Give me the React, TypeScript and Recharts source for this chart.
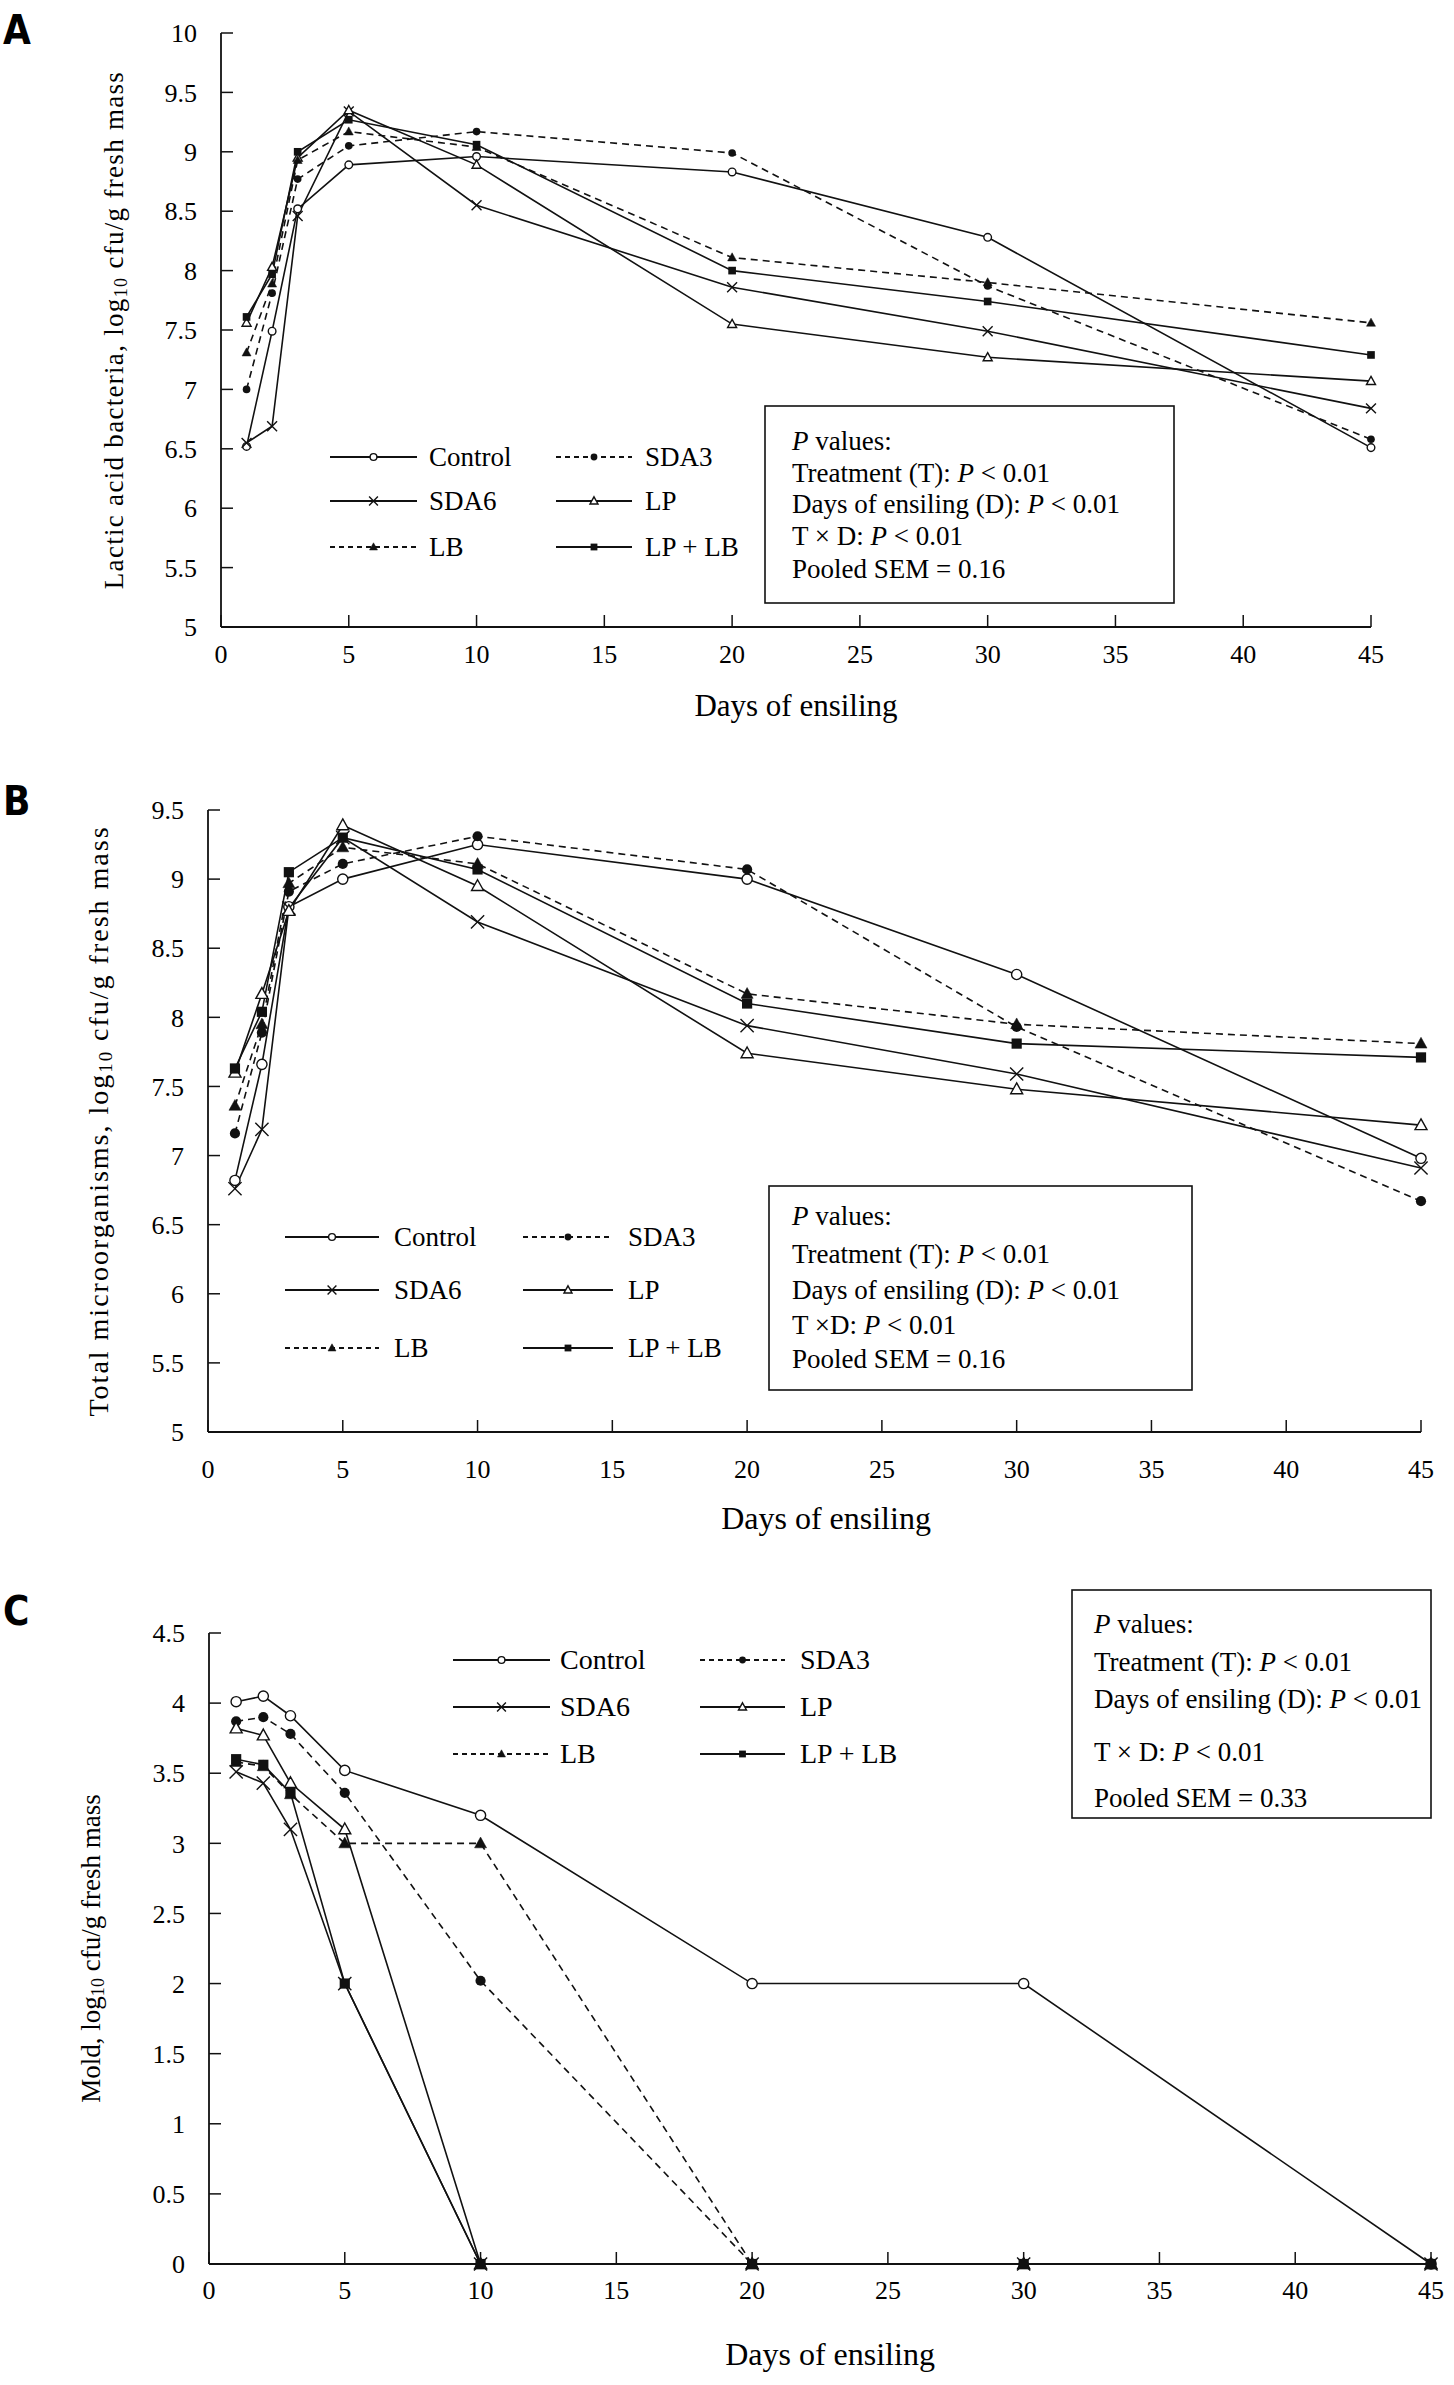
import React from 'react';
import { LineChart, Line, XAxis, YAxis } from 'recharts';

// sampling days shared by all three panels
const days = [1, 2, 3, 5, 10, 20, 30, 45];
const xTicks = [0, 5, 10, 15, 20, 25, 30, 35, 40, 45];

// A: lactic acid bacteria
const labTicks = [5, 5.5, 6, 6.5, 7, 7.5, 8, 8.5, 9, 9.5, 10];
const labControl = [6.52, 7.49, 8.52, 8.89, 8.96, 8.83, 8.28, 6.51];
const labSDA3 = [7.0, 7.81, 8.77, 9.05, 9.17, 8.99, 7.87, 6.58];
const labSDA6 = [6.55, 6.69, 8.46, 9.34, 8.55, 7.86, 7.49, 6.84];
const labLP = [7.56, 8.03, 8.95, 9.35, 8.89, 7.55, 7.27, 7.07];
const labLB = [7.31, 7.89, 8.93, 9.17, 9.04, 8.11, 7.9, 7.56];
const labLPLB = [7.61, 7.97, 9.0, 9.27, 9.06, 8.0, 7.74, 7.29];

// B: total microorganisms
const tmTicks = [5, 5.5, 6, 6.5, 7, 7.5, 8, 8.5, 9, 9.5];
const tmControl = [6.82, 7.66, 8.8, 9.0, 9.25, 9.0, 8.31, 6.98];
const tmSDA3 = [7.16, 7.89, 8.91, 9.11, 9.31, 9.07, 7.93, 6.67];
const tmSDA6 = [6.76, 7.19, 8.79, 9.3, 8.69, 7.94, 7.59, 6.91];
const tmLP = [7.6, 8.17, 8.77, 9.39, 8.95, 7.74, 7.48, 7.22];
const tmLB = [7.36, 7.95, 8.97, 9.23, 9.11, 8.17, 7.95, 7.81];
const tmLPLB = [7.63, 8.04, 9.05, 9.3, 9.07, 8.1, 7.81, 7.71];

// C: mold
const moldTicks = [0, 0.5, 1, 1.5, 2, 2.5, 3, 3.5, 4, 4.5];
const moldControl = [4.01, 4.05, 3.91, 3.52, 3.2, 2.0, 2.0, 0];
const moldSDA3 = [3.87, 3.9, 3.78, 3.36, 2.02, 0, 0, 0];
const moldSDA6 = [3.51, 3.43, 3.1, 2.0, 0, 0, 0, 0];
const moldLP = [3.82, 3.77, 3.43, 3.1, 0, 0, 0, 0];
const moldLB = [3.58, 3.55, 3.35, 3.0, 3.0, 0, 0, 0];
const moldLPLB = [3.6, 3.56, 3.36, 2.0, 0, 0, 0, 0];

const INK = '#111';
const SERIF = '"Liberation Serif", "Times New Roman", serif';
const PAGE_W = 1454;

type Shape = 'circleOpen' | 'circleFilled' | 'cross' | 'triangleOpen' | 'triangleFilled' | 'square';

const series: { key: string; name: string; shape: Shape; dashed: boolean }[] = [
  { key: 'control', name: 'Control', shape: 'circleOpen', dashed: false },
  { key: 'sda3', name: 'SDA3', shape: 'circleFilled', dashed: true },
  { key: 'sda6', name: 'SDA6', shape: 'cross', dashed: false },
  { key: 'lp', name: 'LP', shape: 'triangleOpen', dashed: false },
  { key: 'lb', name: 'LB', shape: 'triangleFilled', dashed: true },
  { key: 'lplb', name: 'LP + LB', shape: 'square', dashed: false },
];

const buildRows = (values: number[][]) =>
  days.map((d, i) => {
    const row: { [k: string]: number } = { day: d };
    series.forEach((s, j) => {
      row[s.key] = values[j][i];
    });
    return row;
  });

function Marker({ cx, cy, shape, size }: { cx?: number; cy?: number; shape: Shape; size: number }) {
  if (cx == null || cy == null || isNaN(cx) || isNaN(cy)) return null;
  const h = size / 2;
  const sw = 1.4;
  switch (shape) {
    case 'circleOpen':
      return <circle cx={cx} cy={cy} r={h * 0.85} fill="#fff" stroke={INK} strokeWidth={sw} />;
    case 'circleFilled':
      return <circle cx={cx} cy={cy} r={h * 0.85} fill={INK} />;
    case 'cross': {
      const c = h * 1.1;
      return (
        <path
          d={`M${cx - c},${cy - c}L${cx + c},${cy + c}M${cx - c},${cy + c}L${cx + c},${cy - c}`}
          stroke={INK}
          strokeWidth={sw}
          fill="none"
        />
      );
    }
    case 'triangleOpen':
    case 'triangleFilled':
      return (
        <polygon
          points={`${cx},${cy - h * 1.05} ${cx + h},${cy + h * 0.75} ${cx - h},${cy + h * 0.75}`}
          fill={shape === 'triangleOpen' ? '#fff' : INK}
          stroke={INK}
          strokeWidth={shape === 'triangleOpen' ? sw : 0.5}
        />
      );
    default:
      return <rect x={cx - h * 0.85} y={cy - h * 0.85} width={h * 1.7} height={h * 1.7} fill={INK} />;
  }
}

type Seg = { t: string; i?: boolean };

interface PanelProps {
  top: number;
  height: number;
  letter: string;
  letterY: number;
  rows: { [k: string]: number }[];
  yDomain: [number, number];
  yTicks: number[];
  plot: { left: number; right: number; top: number; bottom: number };
  yTitle: string;
  yTitleX: number;
  yTitleSize: number;
  yTitleSpacing: number;
  xTickGap: number;
  xTitleX: number;
  xTitleY: number;
  xTitleSize: number;
  markerSize: number;
  legendSize: number;
  legend: { rowsY: number[]; cols: { x1: number; x2: number; tx: number }[] };
  box: { x: number; y: number; w: number; h: number; tx: number; size: number; lineY: number[]; lines: Seg[][] };
}

const statLines = (txd: string, sem: string): Seg[][] => [
  [{ t: 'P', i: true }, { t: ' values:' }],
  [{ t: 'Treatment (T): ' }, { t: 'P', i: true }, { t: ' < 0.01' }],
  [{ t: 'Days of ensiling (D): ' }, { t: 'P', i: true }, { t: ' < 0.01' }],
  [{ t: txd }, { t: 'P', i: true }, { t: ' < 0.01' }],
  [{ t: 'Pooled SEM = ' + sem }],
];

function Panel(p: PanelProps) {
  const yAxisW = 100;
  const xAxisH = 110;
  const margin = {
    top: p.plot.top - p.top,
    left: p.plot.left - yAxisW,
    right: PAGE_W - p.plot.right,
    bottom: p.top + p.height - p.plot.bottom - xAxisH,
  };
  const localTop = p.plot.top - p.top;
  const localBottom = p.plot.bottom - p.top;
  const tick = { fontSize: 26, fill: '#000', fontFamily: SERIF };
  const yMid = (localTop + localBottom) / 2;

  return (
    <div style={{ position: 'absolute', left: 0, top: p.top, width: PAGE_W, height: p.height }}>
      <LineChart width={PAGE_W} height={p.height} data={p.rows} margin={margin}>
        <XAxis
          dataKey="day"
          type="number"
          domain={[0, 45]}
          ticks={xTicks}
          interval={0}
          height={xAxisH}
          tickSize={-12}
          tickMargin={p.xTickGap + 2.5}
          tick={tick}
          axisLine={{ stroke: INK, strokeWidth: 1.8 }}
          tickLine={{ stroke: INK, strokeWidth: 1.5 }}
        />
        <YAxis
          type="number"
          domain={p.yDomain}
          ticks={p.yTicks}
          interval={0}
          width={yAxisW}
          tickSize={-12}
          tickMargin={36}
          tick={tick}
          axisLine={{ stroke: INK, strokeWidth: 1.8 }}
          tickLine={{ stroke: INK, strokeWidth: 1.5 }}
        />
        {series.map((s) => (
          <Line
            key={s.key}
            type="linear"
            dataKey={s.key}
            name={s.name}
            stroke={INK}
            strokeWidth={1.6}
            strokeDasharray={s.dashed ? '7 5' : undefined}
            isAnimationActive={false}
            activeDot={false}
            dot={(d: any) => (
              <Marker key={`${s.key}-${d.index}`} cx={d.cx} cy={d.cy} shape={s.shape} size={p.markerSize} />
            )}
          />
        ))}
      </LineChart>

      <svg
        width={PAGE_W}
        height={p.height}
        style={{ position: 'absolute', left: 0, top: 0, pointerEvents: 'none' }}
        fontFamily={SERIF}
      >
        <text
          x={3}
          y={p.letterY}
          fontFamily='"Liberation Sans Narrow", "DejaVu Sans Condensed", "Liberation Sans", sans-serif'
          fontWeight="bold"
          fontSize={40}
          fill="#000"
        >
          {p.letter}
        </text>

        <text
          x={p.yTitleX}
          y={yMid}
          transform={`rotate(-90 ${p.yTitleX} ${yMid})`}
          textAnchor="middle"
          dominantBaseline="central"
          fontSize={p.yTitleSize}
          letterSpacing={p.yTitleSpacing}
          fill="#000"
        >
          {p.yTitle}, log
          <tspan dy={7} fontSize={p.yTitleSize * 0.67}>10</tspan>
          <tspan dy={-7}> cfu/g fresh mass</tspan>
        </text>

        <text x={p.xTitleX} y={p.xTitleY} textAnchor="middle" fontSize={p.xTitleSize} fill="#000">
          Days of ensiling
        </text>

        {series.map((s, idx) => {
          const row = Math.floor(idx / 2);
          const col = p.legend.cols[idx % 2];
          const y = p.legend.rowsY[row];
          const mid = (col.x1 + col.x2) / 2;
          return (
            <g key={s.key}>
              <line
                x1={col.x1}
                x2={col.x2}
                y1={y}
                y2={y}
                stroke={INK}
                strokeWidth={1.8}
                strokeDasharray={s.dashed ? '5 4' : undefined}
              />
              <Marker cx={mid} cy={y} shape={s.shape} size={8} />
              <text x={col.tx} y={y + 9} fontSize={p.legendSize} fill="#000">
                {s.name}
              </text>
            </g>
          );
        })}

        <rect
          x={p.box.x}
          y={p.box.y}
          width={p.box.w}
          height={p.box.h}
          fill="#fff"
          stroke={INK}
          strokeWidth={1.6}
        />
        {p.box.lines.map((segs, i) => (
          <text key={i} x={p.box.tx} y={p.box.lineY[i]} fontSize={p.box.size} fill="#000">
            {segs.map((sg, j) => (
              <tspan key={j} fontStyle={sg.i ? 'italic' : 'normal'}>
                {sg.t}
              </tspan>
            ))}
          </text>
        ))}
      </svg>
    </div>
  );
}

export default function App() {
  const rowsA = buildRows([labControl, labSDA3, labSDA6, labLP, labLB, labLPLB]);
  const rowsB = buildRows([tmControl, tmSDA3, tmSDA6, tmLP, tmLB, tmLPLB]);
  const rowsC = buildRows([moldControl, moldSDA3, moldSDA6, moldLP, moldLB, moldLPLB]);

  return (
    <div
      style={{
        position: 'absolute',
        left: 0,
        top: 0,
        width: PAGE_W,
        height: 2385,
        background: '#fff',
        fontFamily: SERIF,
      }}
    >
      <Panel
        top={0}
        height={760}
        letter="A"
        letterY={44}
        rows={rowsA}
        yDomain={[5, 10]}
        yTicks={labTicks}
        plot={{ left: 221, right: 1371, top: 33, bottom: 627 }}
        yTitle="Lactic acid bacteria"
        yTitleX={114}
        yTitleSize={27}
        yTitleSpacing={1.3}
        xTickGap={27}
        xTitleX={796}
        xTitleY={716}
        xTitleSize={31}
        markerSize={9}
        legendSize={27}
        legend={{
          rowsY: [457, 501, 547],
          cols: [
            { x1: 330, x2: 417, tx: 429 },
            { x1: 556, x2: 632, tx: 645 },
          ],
        }}
        box={{
          x: 765,
          y: 406,
          w: 409,
          h: 197,
          tx: 792,
          size: 27,
          lineY: [450, 482, 513, 545, 578],
          lines: statLines('T × D: ', '0.16'),
        }}
      />
      <Panel
        top={760}
        height={800}
        letter="B"
        letterY={55}
        rows={rowsB}
        yDomain={[5, 9.5]}
        yTicks={tmTicks}
        plot={{ left: 208, right: 1421, top: 810, bottom: 1432 }}
        yTitle="Total microorganisms"
        yTitleX={98}
        yTitleSize={28}
        yTitleSpacing={2}
        xTickGap={37}
        xTitleX={826}
        xTitleY={769}
        xTitleSize={32}
        markerSize={12}
        legendSize={27}
        legend={{
          rowsY: [477, 530, 588],
          cols: [
            { x1: 285, x2: 379, tx: 394 },
            { x1: 523, x2: 613, tx: 628 },
          ],
        }}
        box={{
          x: 769,
          y: 426,
          w: 423,
          h: 204,
          tx: 792,
          size: 27,
          lineY: [465, 503, 539, 574, 608],
          lines: statLines('T ×D: ', '0.16'),
        }}
      />
      <Panel
        top={1560}
        height={825}
        letter="C"
        letterY={65}
        rows={rowsC}
        yDomain={[0, 4.5]}
        yTicks={moldTicks}
        plot={{ left: 209, right: 1431, top: 1633, bottom: 2264 }}
        yTitle="Mold"
        yTitleX={91}
        yTitleSize={27}
        yTitleSpacing={0}
        xTickGap={26}
        xTitleX={830}
        xTitleY={805}
        xTitleSize={32}
        markerSize={12}
        legendSize={28}
        legend={{
          rowsY: [100, 147, 194],
          cols: [
            { x1: 453, x2: 550, tx: 560 },
            { x1: 700, x2: 785, tx: 800 },
          ],
        }}
        box={{
          x: 1072,
          y: 30,
          w: 359,
          h: 228,
          tx: 1094,
          size: 27,
          lineY: [73, 111, 148, 201, 247],
          lines: statLines('T × D: ', '0.33'),
        }}
      />
    </div>
  );
}
